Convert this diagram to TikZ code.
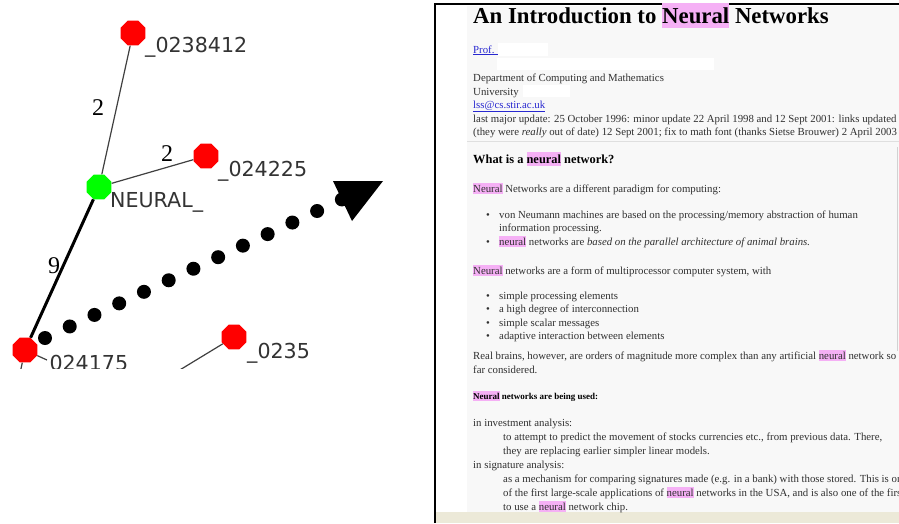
\documentclass[tikz,border=0pt]{standalone}
\usepackage{fontspec}
\setmainfont{Liberation Serif}
\newfontfamily\gsans{DejaVu Sans}
\usetikzlibrary{shapes.geometric}
\definecolor{hl}{HTML}{F5B0F5}
\definecolor{pagebg}{HTML}{F8F8F8}
\definecolor{barbg}{HTML}{ECE9D8}
\definecolor{txt}{HTML}{303030}
\definecolor{lnk}{HTML}{2828D0}
\definecolor{gline}{HTML}{404040}
\newcommand\hlw[1]{{\setlength{\fboxsep}{0pt}\colorbox{hl}{\rule[-0.22em]{0pt}{1.08em}#1}}}
\tikzset{
  oct/.style={regular polygon, regular polygon sides=8, minimum size=27pt, inner sep=0pt, draw=none},
  glab/.style={anchor=base west, inner sep=0pt, text=black!80, font=\gsans\fontsize{20.6}{24}\selectfont},
  elab/.style={inner sep=0pt, text=black, font=\fontsize{24}{28}\selectfont},
  gedge/.style={draw=gline, line width=1.2pt},
  web/.style={anchor=base west, inner sep=0pt, text=txt, font=\fontsize{10.8}{12}\selectfont},
  webb/.style={web, font=\bfseries\fontsize{12.4}{14}\selectfont, text=black},
  bul/.style={anchor=base west, inner sep=0pt, text=txt, font=\fontsize{10.8}{12}\selectfont},
}
\begin{document}
\begin{tikzpicture}[x=1pt,y=-1pt]
\useasboundingbox (0,0) rectangle (899,523);
\fill[white] (0,0) rectangle (899,523);
\begin{scope}
\clip (0,0) rectangle (899,523);
% ---------------- right panel: web page screenshot
\fill[white] (435,4) rectangle (899,523);
\fill[pagebg] (467,6) rectangle (899,512);
\fill[barbg] (436,512) rectangle (899,523);
\draw[gray!25, line width=0.8pt] (467,141) -- (899,141);
\draw[gray!35, line width=1pt] (897,147) -- (897,351);
\draw[line width=2pt] (435,523) -- (435,4) -- (899,4);
\node[anchor=base west, inner sep=0pt, text=black, font=\bfseries\fontsize{22.8}{26}\selectfont] (title) at (473,23) {An Introduction to \hlw{Neural} Networks};
\node[web, text=lnk] (prof) at (473,53) {\underline{Prof.\ \ }};
\fill[white] (498,43) rectangle (548,56);
\fill[white] (497,58) rectangle (714,70);
\node[web] (dept) at (473,81) {Department of Computing and Mathematics};
\node[web] (univ) at (473,95) {University};
\fill[white] (523,85) rectangle (570,97);
\node[web, text=lnk] (mail) at (473,108) {\underline{lss@cs.stir.ac.uk}};
\node[web] (upd1) at (473,122) {last major update: 25 October 1996: minor update 22 April 1998 and 12 Sept 2001: links updated};
\node[web] (upd2) at (473,135) {(they were \emph{really} out of date) 12 Sept 2001; fix to math font (thanks Sietse Brouwer) 2 April 2003};
\node[webb] (h1) at (473,163) {What is a \hlw{neural} network?};
\node[web] (p1) at (473,192) {\hlw{Neural} Networks are a different paradigm for computing:};
\node[bul] (b1) at (486,218) {•};
\node[web] (t1) at (499,218) {von Neumann machines are based on the processing/memory abstraction of human};
\node[web] (t1b) at (499,231) {information processing.};
\node[bul] (b2) at (486,245) {•};
\node[web] (t2) at (499,245) {\hlw{neural} networks are \emph{based on the parallel architecture of animal brains.}};
\node[web] (p2) at (473,274) {\hlw{Neural} networks are a form of multiprocessor computer system, with};
\node[bul] (b3) at (486,299) {•};
\node[web] (t3) at (499,299) {simple processing elements};
\node[bul] (b4) at (486,312) {•};
\node[web] (t4) at (499,312) {a high degree of interconnection};
\node[bul] (b5) at (486,326) {•};
\node[web] (t5) at (499,326) {simple scalar messages};
\node[bul] (b6) at (486,339) {•};
\node[web] (t6) at (499,339) {adaptive interaction between elements};
\node[web] (p3) at (473,359) {Real brains, however, are orders of magnitude more complex than any artificial \hlw{neural} network so};
\node[web] (p3b) at (473,373) {far considered.};
\node[web, font=\bfseries\fontsize{9}{10}\selectfont, text=black] (h2) at (473,399) {\hlw{Neural} networks are being used:};
\node[web] (d1) at (473,426) {in investment analysis:};
\node[web] (d1a) at (503,440) {to attempt to predict the movement of stocks currencies etc., from previous data. There,};
\node[web] (d1b) at (503,454) {they are replacing earlier simpler linear models.};
\node[web] (d2) at (473,468) {in signature analysis:};
\node[web] (d2a) at (503,482) {as a mechanism for comparing signatures made (e.g. in a bank) with those stored. This is one};
\node[web] (d2b) at (503,496) {of the first large-scale applications of \hlw{neural} networks in the USA, and is also one of the first};
\node[web] (d2c) at (503,510) {to use a \hlw{neural} network chip.};
\end{scope}
% ---------------- left panel: graph
\begin{scope}
\clip (0,0) rectangle (430,368);
\node[oct, fill=red] (n1) at (133,33) {};
\node[oct, fill=red] (n2) at (206,156) {};
\node[oct, fill=green] (nn) at (99,187) {};
\node[oct, fill=red] (n3) at (25,350) {};
\node[oct, fill=red] (n4) at (234,337) {};
\coordinate (c3) at (16,392);
\coordinate (c3b) at (47,360);
\coordinate (c4) at (160,382);
\draw[gedge] (n1) -- (nn);
\draw[gedge] (n2) -- (nn);
\draw[line width=3pt, black] (nn) -- (n3);
\draw[gedge] (n4) -- (c4);
\draw[gedge] (n3) -- (c3);
\draw[gedge] (n3) -- (c3b);
\node[elab] (e1) at (98,108) {2};
\node[elab] (e2) at (167,154) {2};
\node[elab] (e3) at (54,266) {9};
\node[glab] (l1) at (145,52) {\_0238412};
\node[glab] (l2) at (218,176) {\_024225};
\node[glab] (ln) at (110,207) {NEURAL\_};
\node[glab] (l4) at (247,358) {\_0235};
\node[glab] (l3) at (39,370) {\_024175};
\end{scope}
% dotted arrow
\coordinate (d0) at (45,338);
\coordinate (d1) at (345,198);
\draw[line width=14pt, line cap=round, dash pattern=on 0pt off 27.3pt] (d0) -- (d1);
\fill (333,181) -- (383,181) -- (352,221) -- cycle;
\end{tikzpicture}
\end{document}
